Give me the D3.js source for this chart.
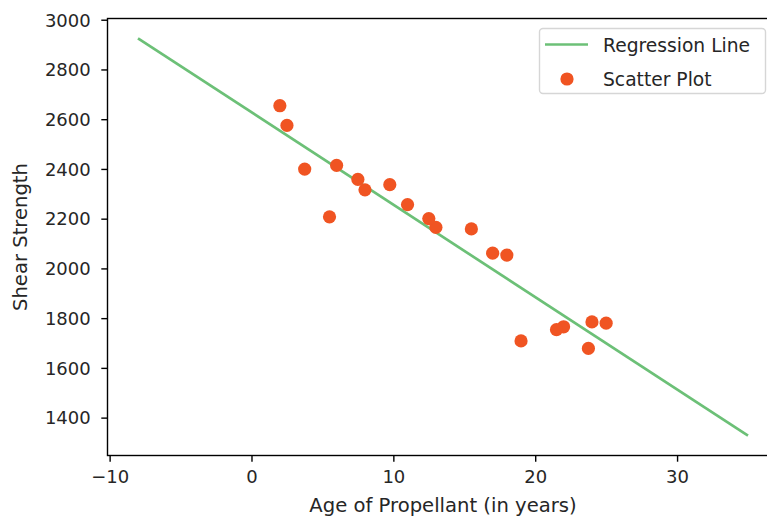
<!DOCTYPE html>
<html>
<head>
<meta charset="utf-8">
<script src="https://cdn.jsdelivr.net/npm/d3@7"></script>
<style>
  html, body { margin: 0; padding: 0; background: #fff; }
  svg { display: block; }
  text { font-family: "DejaVu Sans", sans-serif; fill: #262626; }
</style>
</head>
<body>
<svg id="chart" width="767" height="518"></svg>
<script>
// Rocket propellant data
const age = [15.50, 23.75, 8.00, 17.00, 5.50, 19.00, 24.00, 2.50, 7.50, 11.00,
             13.00, 3.75, 25.00, 9.75, 22.00, 18.00, 6.00, 12.50, 2.00, 21.50];
const shear = [2158.70, 1678.15, 2316.00, 2061.30, 2207.50, 1708.30, 1784.70, 2575.00, 2357.90, 2256.70,
               2165.20, 2399.55, 1779.80, 2336.75, 1765.30, 2053.50, 2414.40, 2200.50, 2654.20, 1753.70];
const lineX = [-8, 35];
const lineY = [2925.02, 1327.57];   // fitted regression line at its two ends
const xTicks = [-10, 0, 10, 20, 30];
const yTicks = [1400, 1600, 1800, 2000, 2200, 2400, 2600, 2800, 3000];
const legendLabels = ["Regression Line", "Scatter Plot"];

(function () {
const svg = d3.select("#chart");
const FS = 18, FL = 19.6, FG = 18.7;
const pL = 107.5, pR = 778.5, pT = 18.5, pB = 455.5;

const x = d3.scaleLinear().domain([-10.15, 37.15]).range([pL, pR]);
const y = d3.scaleLinear().domain([1247.7, 3004.9]).range([pB, pT]);

const green = "#6cc077";
const orange = "#f05422";

// regression line
svg.append("path")
  .datum(lineX.map((v, i) => [v, lineY[i]]))
  .attr("d", d3.line().x(d => x(d[0])).y(d => y(d[1])))
  .attr("fill", "none").attr("stroke", green).attr("stroke-width", 2.7);

// scatter
svg.append("g").selectAll("circle")
  .data(age.map((v, i) => [v, shear[i]]))
  .join("circle")
  .attr("cx", d => x(d[0])).attr("cy", d => y(d[1]))
  .attr("r", 6.6).attr("fill", orange);

// axes
const xAxis = d3.axisBottom(x).tickValues(xTicks).tickSize(6.2).tickPadding(6)
  .tickFormat(d => d < 0 ? "\u2212" + Math.abs(d) : String(d));
const yAxis = d3.axisLeft(y).tickValues(yTicks).tickSize(6.2).tickPadding(6)
  .tickFormat(d3.format("d"));

const gx = svg.append("g").attr("transform", `translate(0,${pB})`).call(xAxis);
const gy = svg.append("g").attr("transform", `translate(${pL},0)`).call(yAxis);
[gx, gy].forEach(g => {
  g.select(".domain").remove();
  g.selectAll(".tick line").attr("stroke", "#000").attr("stroke-width", 1.4);
  g.selectAll(".tick text").attr("font-size", FS).attr("font-family", "DejaVu Sans").attr("fill", "#262626");
});
gx.selectAll(".tick text").attr("dy", "0.71em").attr("y", 14.5);
gy.selectAll(".tick text").attr("x", -16.8).attr("dy", "0.35em");

// spines
svg.append("rect").attr("x", pL).attr("y", pT)
  .attr("width", pR - pL).attr("height", pB - pT)
  .attr("fill", "none").attr("stroke", "#000").attr("stroke-width", 1.4);

// axis labels
svg.append("text").attr("x", (pL + pR) / 2).attr("y", 512)
  .attr("text-anchor", "middle").attr("font-size", FL).text("Age of Propellant (in years)");
svg.append("text").attr("transform", `translate(26.5,${(pT + pB) / 2}) rotate(-90)`)
  .attr("text-anchor", "middle").attr("font-size", FL).text("Shear Strength");

// legend
const lg = svg.append("g");
lg.append("rect").attr("x", 539.5).attr("y", 28.5).attr("width", 226).attr("height", 65)
  .attr("rx", 3.5).attr("fill", "#fff").attr("fill-opacity", 0.8)
  .attr("stroke", "#d6d6d6").attr("stroke-width", 1.4);
lg.append("line").attr("x1", 545).attr("x2", 588).attr("y1", 44.5).attr("y2", 44.5)
  .attr("stroke", green).attr("stroke-width", 2.7);
lg.append("circle").attr("cx", 567).attr("cy", 79).attr("r", 6.6).attr("fill", orange);
lg.selectAll("text.lab").data(legendLabels).join("text").attr("class", "lab")
  .attr("x", 603).attr("y", (d, i) => 51.5 + i * 34)
  .attr("font-size", FG).text(d => d);
})();
</script>
</body>
</html>
